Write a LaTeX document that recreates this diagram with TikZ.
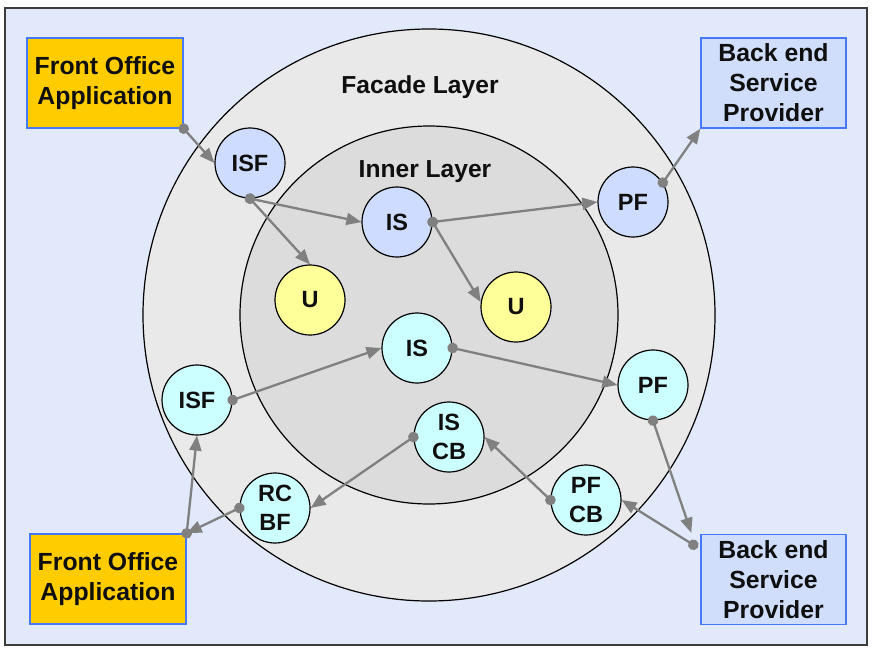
\documentclass[tikz,border=0pt]{standalone}
\usepackage{fontspec}
\setmainfont{Liberation Sans}
\usetikzlibrary{arrows.meta}
\definecolor{bgblue}{RGB}{225,233,251}
\definecolor{framegray}{RGB}{60,60,60}
\definecolor{ringouter}{RGB}{233,233,233}
\definecolor{ringinner}{RGB}{220,220,220}
\definecolor{nodeblue}{RGB}{206,221,255}
\definecolor{nodecyan}{RGB}{204,255,255}
\definecolor{nodeyellow}{RGB}{255,255,153}
\definecolor{boxorange}{RGB}{255,204,0}
\definecolor{boxblue}{RGB}{208,222,252}
\definecolor{boxedge}{RGB}{70,120,250}
\definecolor{conngray}{RGB}{128,128,128}
\definecolor{txt}{RGB}{15,15,15}
\tikzset{
  cnode/.style={circle, draw=black, line width=1.2pt, minimum size=70pt, inner sep=0pt,
    align=center, text=txt, font=\bfseries\fontsize{23.5}{28.5}\selectfont},
  boxnode/.style={rectangle, draw=boxedge, line width=1.4pt, minimum height=90pt,
    inner sep=0pt, align=center, text=txt, font=\bfseries\fontsize{24.8}{30}\selectfont},
  layerlabel/.style={text=txt, font=\bfseries\fontsize{24.6}{29}\selectfont, inner sep=0pt},
  conn/.style={draw=conngray, line width=2.3pt,
    {Circle[length=10.5pt,width=10.5pt,sep=-5.25pt]}-{Triangle[length=15pt,width=12pt]}},
}
\begin{document}
\begin{tikzpicture}[x=1pt,y=-1pt]
\useasboundingbox (0,0) rectangle (874,653);
\draw[fill=bgblue, draw=framegray, line width=1.5pt] (5,8) rectangle (867,645);
\filldraw[fill=ringouter, draw=black, line width=1.2pt] (429,315) circle[radius=286];
\filldraw[fill=ringinner, draw=black, line width=1.2pt] (429,315) circle[radius=189];
\node[layerlabel] (facade) at (420,87) {Facade Layer};
\node[layerlabel] (inner) at (425,172) {Inner Layer};

\node[boxnode, fill=boxorange, minimum width=156pt] (fo1) at (105,83) {Front Office\\Application};
\node[boxnode, fill=boxblue, minimum width=145pt] (be1) at (773.5,83) {Back end\\Service\\Provider};
\node[boxnode, fill=boxorange, minimum width=156pt] (fo2) at (108,579) {Front Office\\Application};
\node[boxnode, fill=boxblue, minimum width=145pt] (be2) at (773.5,579.5) {Back end\\Service\\Provider};

\node[cnode, fill=nodeblue] (isf1) at (250,163) {ISF};
\node[cnode, fill=nodeblue] (is1) at (397,222) {IS};
\node[cnode, fill=nodeblue] (pf1) at (633,202) {PF};
\node[cnode, fill=nodeyellow] (u1) at (310,300) {U};
\node[cnode, fill=nodeyellow] (u2) at (516,307) {U};
\node[cnode, fill=nodecyan] (is2) at (417,348) {IS};
\node[cnode, fill=nodecyan] (isf2) at (197,400) {ISF};
\node[cnode, fill=nodecyan] (pf2) at (653,385) {PF};
\node[cnode, fill=nodecyan] (iscb) at (449,437) {IS\\CB};
\node[cnode, fill=nodecyan] (rcbf) at (275,508) {RC\\BF};
\node[cnode, fill=nodecyan] (pfcb) at (586,500) {PF\\CB};

\coordinate (be2in) at ([xshift=-9pt,yshift=1pt]be2.north west);
\coordinate (be2out) at ([xshift=-7pt,yshift=-11pt]be2.north west);

\draw[conn] (fo1.south east) -- (isf1.west);
\draw[conn] (isf1.south) -- (is1.west);
\draw[conn] (isf1.south) -- (u1.north);
\draw[conn] (is1.east) -- (pf1.west);
\draw[conn] (is1.east) -- (u2.172);
\draw[conn] (pf1.33) -- (be1.south west);
\draw[conn] (isf2.east) -- (is2.west);
\draw[conn] (is2.east) -- (pf2.west);
\draw[conn] (fo2.north east) -- (isf2.south);
\draw[conn] (rcbf.west) -- (fo2.north east);
\draw[conn] (iscb.west) -- (rcbf.east);
\draw[conn] (pfcb.west) -- (iscb.east);
\draw[conn] (be2out) -- (pfcb.east);
\draw[conn] (pf2.south) -- (be2in);
\end{tikzpicture}
\end{document}
